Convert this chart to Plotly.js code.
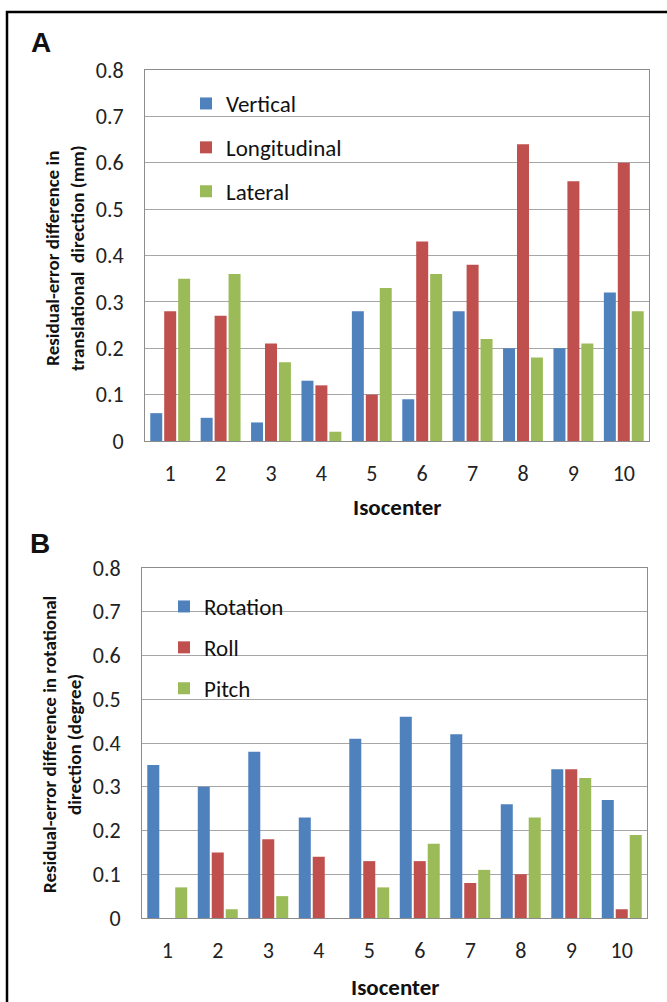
<!DOCTYPE html>
<html>
<head>
<meta charset="utf-8">
<script src="https://cdn.plot.ly/plotly-3.0.1.min.js"></script>
<style>html,body{margin:0;padding:0;background:#fff;}#chart{width:667px;height:1002px;}</style>
</head>
<body>
<div id="chart"></div>
<script>
// ---- data ----
const isocenters = ['1','2','3','4','5','6','7','8','9','10'];
const vertical     = [0.06, 0.05, 0.04, 0.13, 0.28, 0.09, 0.28, 0.20, 0.20, 0.32];
const longitudinal = [0.28, 0.27, 0.21, 0.12, 0.10, 0.43, 0.38, 0.64, 0.56, 0.60];
const lateral      = [0.35, 0.36, 0.17, 0.02, 0.33, 0.36, 0.22, 0.18, 0.21, 0.28];
const rotation = [0.35, 0.30, 0.38, 0.23, 0.41, 0.46, 0.42, 0.26, 0.34, 0.27];
const roll     = [0.00, 0.15, 0.18, 0.14, 0.13, 0.13, 0.08, 0.10, 0.34, 0.02];
const pitch    = [0.07, 0.02, 0.05, 0.00, 0.07, 0.17, 0.11, 0.23, 0.32, 0.19];
const yTickVals = [0, 0.1, 0.2, 0.3, 0.4, 0.5, 0.6, 0.7, 0.8];
const yTickText = ['0','0.1','0.2','0.3','0.4','0.5','0.6','0.7','0.8'];

const W = 667, H = 1002;
const px = x => x / W;
const py = y => 1 - y / H;
const FONT = 'Carlito, "Liberation Sans Narrow", "Liberation Sans", sans-serif';
const BLUE = '#4F81BD', RED = '#C0504D', GREEN = '#9BBB59';

function bar(name, y, color, xa, ya, leg, grp) {
  return {type: 'bar', name: name, x: isocenters, y: y, xaxis: xa, yaxis: ya,
    marker: {color: color, line: {width: 0}}, legend: leg, legendgroup: grp,
    hoverinfo: 'skip'};
}

const data = [
  bar('Vertical', vertical, BLUE, 'x', 'y', 'legend', 'a1'),
  bar('Longitudinal', longitudinal, RED, 'x', 'y', 'legend', 'a2'),
  bar('Lateral', lateral, GREEN, 'x', 'y', 'legend', 'a3'),
  bar('Rotation', rotation, BLUE, 'x2', 'y2', 'legend2', 'b1'),
  bar('Roll', roll, RED, 'x2', 'y2', 'legend2', 'b2'),
  bar('Pitch', pitch, GREEN, 'x2', 'y2', 'legend2', 'b3')
];

function xax(domain, anchor) {
  return {domain: domain, anchor: anchor, type: 'category', showgrid: false,
    showline: true, linecolor: '#8C8C8C', linewidth: 1, mirror: true,
    ticks: '', ticklabelstandoff: 13, tickfont: {family: FONT, size: 22, color: '#222'},
    zeroline: false, fixedrange: true};
}
function yax(domain, anchor) {
  return {domain: domain, anchor: anchor, range: [0, 0.8], tickvals: yTickVals, ticktext: yTickText,
    showgrid: true, gridcolor: '#A6A6A6', gridwidth: 1, showline: true, linecolor: '#8C8C8C',
    linewidth: 1, mirror: true, ticks: '', ticklabelstandoff: 16,
    tickfont: {family: FONT, size: 22, color: '#222'}, zeroline: false, fixedrange: true};
}

const legFont = {family: FONT, size: 23, color: '#111'};
function ann(text, x, y, size, angle, family) {
  return {text: text, x: px(x), y: py(y), xref: 'paper', yref: 'paper', showarrow: false,
    xanchor: 'center', yanchor: 'middle', textangle: angle || 0,
    font: {family: family || FONT, size: size, color: '#111'}};
}
const layout = {
  width: W, height: H,
  margin: {l: 0, r: 0, t: 0, b: 0},
  paper_bgcolor: '#fff', plot_bgcolor: '#fff',
  barmode: 'group', bargap: 0.17, bargroupgap: 0.14,
  showlegend: true,
  xaxis: xax([px(145), px(649)], 'y'),
  yaxis: yax([py(441), py(70)], 'x'),
  xaxis2: xax([px(142), px(647)], 'y2'),
  yaxis2: yax([py(918), py(568)], 'x2'),
  legend: {x: px(186), y: py(82), xanchor: 'left', yanchor: 'top', bgcolor: 'rgba(0,0,0,0)',
    font: legFont, tracegroupgap: 11, itemwidth: 30, traceorder: 'grouped'},
  legend2: {x: px(164), y: py(585), xanchor: 'left', yanchor: 'top', bgcolor: 'rgba(0,0,0,0)',
    font: legFont, tracegroupgap: 8, itemwidth: 30, traceorder: 'grouped'},
  shapes: [
    {type: 'rect', xref: 'paper', yref: 'paper', x0: px(7), x1: px(720), y0: py(1060), y1: py(12),
      line: {color: '#000', width: 2.5}, fillcolor: 'rgba(0,0,0,0)', layer: 'below'}
  ],
  annotations: [
    ann('<b>A</b>', 41, 42, 28, 0, '"Liberation Sans", Arial, sans-serif'),
    ann('<b>B</b>', 40, 543, 28, 0, '"Liberation Sans", Arial, sans-serif'),
    ann('<b>Residual-error difference in<br>translational  direction (mm)</b>', 65, 258, 19, -90),
    ann('<b>Residual-error difference in rotational<br>direction (degree)</b>', 62, 745, 19, -90),
    ann('<b>Isocenter</b>', 397, 507, 23, 0),
    ann('<b>Isocenter</b>', 395, 987, 23, 0)
  ]
};

Plotly.newPlot('chart', data, layout, {staticPlot: true, displayModeBar: false});
</script>
</body>
</html>
